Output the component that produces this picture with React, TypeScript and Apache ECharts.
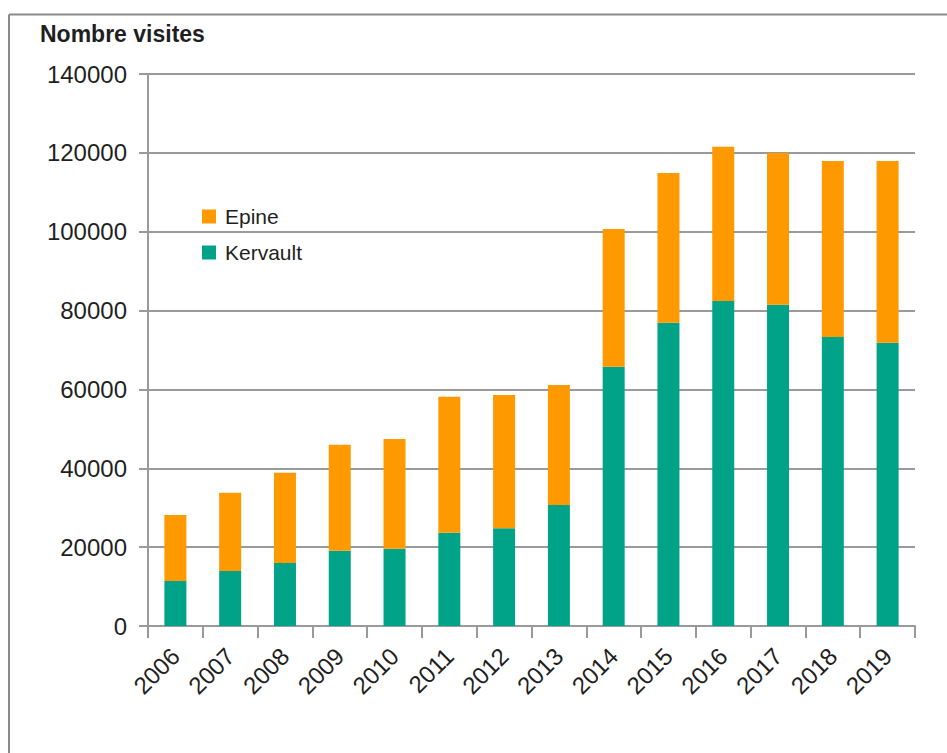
import React, { useEffect, useRef } from "react";
import * as echarts from "echarts";

const years = ["2006", "2007", "2008", "2009", "2010", "2011", "2012", "2013", "2014", "2015", "2016", "2017", "2018", "2019"];
const kervault = [11400, 13950, 15980, 19100, 19610, 23670, 24770, 30690, 65770, 76930, 82420, 81490, 73290, 71850];
const epine = [16750, 19850, 22900, 26880, 27810, 34490, 33810, 30430, 34910, 37950, 39140, 38460, 44630, 46070];
const seriesNames = ["Epine", "Kervault"];
const titleText = "Nombre visites";

const FONT = "'Liberation Sans', Arial, sans-serif";

export default function App() {
  const ref = useRef<HTMLDivElement>(null);
  useEffect(() => {
    if (!ref.current) return;
    const chart = echarts.init(ref.current, null, { renderer: "svg" });
    chart.setOption({
      animation: false,
      backgroundColor: "#ffffff",
      title: {
        text: titleText,
        left: 40,
        top: 22,
        padding: 0,
        textStyle: { fontFamily: FONT, fontSize: 23, fontWeight: "bold", color: "#1f1f1f" },
      },
      legend: {
        data: seriesNames,
        orient: "vertical",
        left: 202,
        top: 206,
        padding: 0,
        itemWidth: 14,
        itemHeight: 14,
        itemGap: 15,
        icon: "rect",
        textStyle: { fontFamily: FONT, fontSize: 21, color: "#1f1f1f", padding: [0, 0, 0, 4] },
      },
      grid: { left: 148, right: 32, top: 74, bottom: 127, containLabel: false },
      xAxis: {
        type: "category",
        data: years,
        axisLine: { lineStyle: { color: "#9a9a9a", width: 2 } },
        axisTick: { show: true, length: 12, lineStyle: { color: "#9a9a9a", width: 2 } },
        axisLabel: { rotate: 45, margin: 26, fontFamily: FONT, fontSize: 24, color: "#1f1f1f" },
      },
      yAxis: {
        type: "value",
        min: 0,
        max: 140000,
        interval: 20000,
        axisLine: { show: true, lineStyle: { color: "#9a9a9a", width: 2 } },
        axisTick: { show: true, length: 9, lineStyle: { color: "#9a9a9a", width: 2 } },
        axisLabel: {
          margin: 21,
          fontFamily: FONT,
          fontSize: 24,
          color: "#1f1f1f",
          formatter: (v: number) => String(v),
        },
        splitLine: { show: true, lineStyle: { color: "#9a9a9a", width: 2 } },
      },
      series: [
        {
          name: "Kervault",
          type: "bar",
          stack: "total",
          barWidth: 22,
          data: kervault,
          itemStyle: { color: "#00A387" },
        },
        {
          name: "Epine",
          type: "bar",
          stack: "total",
          barWidth: 22,
          data: epine,
          itemStyle: { color: "#FF9900" },
        },
      ],
      graphic: [
        { type: "line", shape: { x1: 9, y1: 14.5, x2: 947, y2: 14.5 }, style: { stroke: "#8a8a8a", lineWidth: 2 } },
        { type: "line", shape: { x1: 9, y1: 14.5, x2: 9, y2: 753 }, style: { stroke: "#8a8a8a", lineWidth: 2 } },
      ],
    });
    return () => chart.dispose();
  }, []);
  return (
    <div
      ref={ref}
      style={{ position: "absolute", left: 0, top: 0, width: 947, height: 753 }}
    />
  );
}
